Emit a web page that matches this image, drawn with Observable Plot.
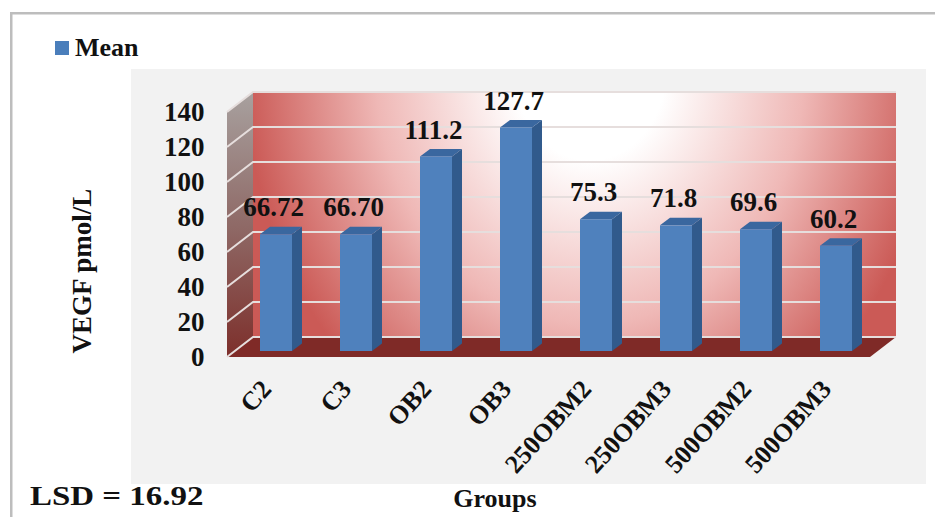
<!DOCTYPE html>
<html>
<head>
<meta charset="utf-8">
<script src="https://cdn.jsdelivr.net/npm/d3@7"></script>
<script src="https://cdn.jsdelivr.net/npm/@observablehq/plot@0.6"></script>
<style>
  html, body { margin: 0; padding: 0; background: #fff; }
  #page { position: relative; width: 935px; height: 517px; overflow: hidden;
          font-family: "Liberation Serif", serif; font-weight: bold; color: #111; }
  #page svg { position: absolute; left: 0; top: 0; }
  .note { position: absolute; white-space: nowrap; line-height: 1; }
  #swatch { position: absolute; left: 55px; top: 41px; width: 14px; height: 14px; background: #4a7ebb; }
</style>
</head>
<body>
<div id="page">
  <div id="chart"></div>
  <div id="swatch"></div>
  <div class="note" id="legend" style="left:75px;top:35px;font-size:26px">Mean</div>
  <div class="note" id="lsd" style="left:30px;top:483px;font-size:27px;transform:scaleX(1.22);transform-origin:left center">LSD = 16.92</div>
</div>
<script>
const groups = ["C2", "C3", "OB2", "OB3", "250OBM2", "250OBM3", "500OBM2", "500OBM3"];
const means = [66.72, 66.70, 111.2, 127.7, 75.3, 71.8, 69.6, 60.2];
const meanLabels = ["66.72", "66.70", "111.2", "127.7", "75.3", "71.8", "69.6", "60.2"];
const yTicks = [0, 20, 40, 60, 80, 100, 120, 140];

const rows = groups.map((group, i) => ({group, mean: means[i], label: meanLabels[i]}));

// Extrusion of the bars and of the chart box, in pixels
const barDepth = {dx: 10, dy: -7.5};
const boxBack = -14;
const boxFront = 6;
const boxSkew = 26;

const NS = "http://www.w3.org/2000/svg";
function el(name, attrs, parent) {
  const node = document.createElementNS(NS, name);
  for (const k in attrs) node.setAttribute(k, attrs[k]);
  if (parent) parent.appendChild(node);
  return node;
}
function poly(parent, pts, fill, extra = {}) {
  return el("polygon", {points: pts.map((p) => p.join(",")).join(" "), fill, ...extra}, parent);
}

// Gradient definitions plus the grey card behind the chart
function backdrop() {
  const g = el("g", {});
  const defs = el("defs", {}, g);
  const wall = el("radialGradient", {
    id: "wallFill", gradientUnits: "userSpaceOnUse", cx: 0, cy: 0, r: 1,
    gradientTransform: "translate(590,70) scale(345,410)"
  }, defs);
  el("stop", {offset: "0", "stop-color": "#ffffff"}, wall);
  el("stop", {offset: "0.22", "stop-color": "#ffffff"}, wall);
  el("stop", {offset: "0.62", "stop-color": "#efb8b6"}, wall);
  el("stop", {offset: "1", "stop-color": "#cb5a56"}, wall);
  const side = el("linearGradient", {id: "sideFill", x1: 0, y1: 0, x2: 0, y2: 1}, defs);
  el("stop", {offset: "0", "stop-color": "#a8a19f"}, side);
  el("stop", {offset: "0.5", "stop-color": "#8f6a67"}, side);
  el("stop", {offset: "1", "stop-color": "#7d2f2b"}, side);
  el("rect", {x: 131, y: 69, width: 795, height: 415, fill: "#f2f2f2"}, g);
  el("rect", {x: 10, y: 12, width: 925, height: 2.5, fill: "#bdbdbd"}, g);
  el("rect", {x: 10, y: 12, width: 2.5, height: 505, fill: "#bdbdbd"}, g);
  return g;
}

// Back wall, side wall, floor and the grid lines that fold across the two walls
function chartBox(index, scales, values, dims) {
  const g = el("g", {});
  const y = scales.y;
  const left = dims.marginLeft;
  const right = dims.width - dims.marginRight;
  const top = y(yTicks[yTicks.length - 1]);
  const base = y(0);
  poly(g, [[left + boxSkew, top + boxBack], [right + boxSkew, top + boxBack],
           [right + boxSkew, base + boxBack], [left + boxSkew, base + boxBack]], "url(#wallFill)");
  poly(g, [[left, top + boxFront], [left + boxSkew, top + boxBack],
           [left + boxSkew, base + boxBack], [left, base + boxFront]], "url(#sideFill)");
  poly(g, [[left, base + boxFront], [right, base + boxFront],
           [right + boxSkew, base + boxBack], [left + boxSkew, base + boxBack]], "#7f2a27");
  for (const t of yTicks) {
    const v = y(t);
    const points = [[left, v + boxFront], [left + boxSkew, v + boxBack], [right + boxSkew, v + boxBack]];
    el("polyline", {
      points: points.map((p) => p.join(",")).join(" "),
      fill: "none", stroke: "#e6dedd", "stroke-width": 2
    }, g);
  }
  return g;
}

// Side and top faces of each bar, placed from the same scales as the front face
function barFaces(index, scales) {
  const g = el("g", {});
  const bw = scales.x.bandwidth();
  for (const d of rows) {
    const x0 = scales.x(d.group);
    const x1 = x0 + bw;
    const top = scales.y(d.mean);
    const base = scales.y(0);
    const {dx, dy} = barDepth;
    poly(g, [[x1, top], [x1 + dx, top + dy], [x1 + dx, base + dy], [x1, base]], "#315a8c");
    poly(g, [[x0, top], [x0 + dx, top + dy], [x1 + dx, top + dy], [x1, top]], "#3a679f");
  }
  return g;
}

const chart = Plot.plot({
  width: 935,
  height: 517,
  marginLeft: 227,
  marginRight: 65,
  marginTop: 106,
  marginBottom: 166,
  style: {background: "transparent", fontFamily: "Liberation Serif, serif", fontWeight: "bold", color: "#111"},
  x: {type: "band", domain: groups, range: [234.4, 876.6], paddingInner: 0.6, paddingOuter: 0.3, label: null},
  y: {domain: [0, 140], label: null},
  marks: [
    backdrop,
    chartBox,
    barFaces,
    Plot.barY(rows, {x: "group", y: "mean", fill: "#4f81bd"}),
    Plot.text(rows, {
      x: "group", y: "mean", text: "label", dx: -3, dy: -27,
      fontSize: 27, fontWeight: "bold", fill: "#111"
    }),
    Plot.axisY({
      ticks: yTicks, tickSize: 0, tickPadding: 23, dy: 6, label: null,
      fontSize: 27, fontWeight: "bold", fill: "#111"
    }),
    Plot.axisX({
      tickSize: 0, tickPadding: 33, tickRotate: -48, dx: -10, label: null,
      fontSize: 26, fontWeight: "bold", fill: "#111"
    }),
    Plot.text(["VEGF pmol/L"], {
      text: (d) => d, frameAnchor: "left", textAnchor: "middle", rotate: -90, dx: -145, dy: 42,
      fontSize: 27, fontWeight: "bold", fill: "#111"
    }),
    Plot.text(["Groups"], {
      text: (d) => d, frameAnchor: "bottom", dx: -54, dy: 155,
      fontSize: 26, fontWeight: "bold", fill: "#111"
    })
  ]
});
document.getElementById("chart").appendChild(chart);
</script>
</body>
</html>
